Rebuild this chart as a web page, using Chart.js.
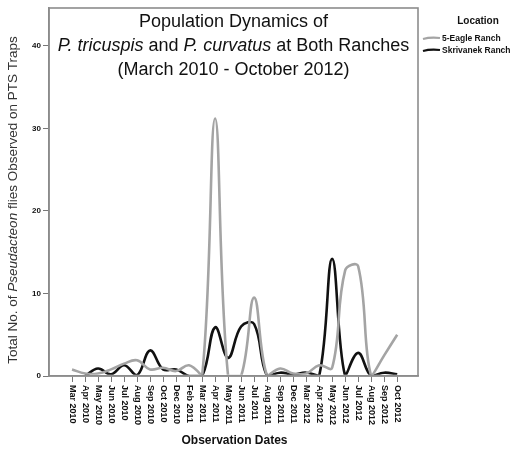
<!DOCTYPE html>
<html><head><meta charset="utf-8">
<script src="https://cdn.jsdelivr.net/npm/chart.js@4.4.0/dist/chart.umd.min.js"></script>
<style>html,body{margin:0;padding:0;background:#fff;}#wrap{width:529px;height:450px;}</style>
</head><body><div id="wrap"><canvas id="c" width="529" height="450"></canvas></div>
<script>
const dateLabels = ['Mar 2010','Apr 2010','May 2010','Jun 2010','Jul 2010','Aug 2010','Sep 2010','Oct 2010','Dec 2010','Feb 2011','Mar 2011','Apr 2011','May 2011','Jun 2011','Jul 2011','Aug 2011','Sep 2011','Dec 2011','Mar 2012','Apr 2012','May 2012','Jun 2012','Jul 2012','Aug 2012','Sep 2012','Oct 2012'];
const eagleRanch = [0.8,0.3,0.3,0.8,1.5,1.9,0.8,1.0,0.6,1.3,0,31.2,0,0,9.5,0,0.9,0.3,0.3,1.3,1.0,12.8,13.3,0,2.5,5.0];
const skrivanekRanch = [null,0,0.9,0.2,1.3,0.1,3.1,0.8,0.8,0,0,5.9,2.2,6.0,6.3,0,0.4,0.2,0.4,0,14.2,0,2.8,0,0.4,0.2];
const seriesNames = ['5-Eagle Ranch','Skrivanek Ranch'];
const yTickValues = [0,10,20,30,40];
const titleLine1 = 'Population Dynamics of';
const titleLine2 = [['P. tricuspis',true],[' and ',false],['P. curvatus',true],[' at Both Ranches',false]];
const titleLine3 = '(March 2010 - October 2012)';
const yTitle = [['Total No. of ',false],['Pseudacteon',true],[' flies Observed on PTS Traps',false]];
const xTitle = 'Observation Dates';
const legendTitle = 'Location';

const FONT = '"Liberation Sans", Arial, sans-serif';
const colors = ['#a4a4a4', '#111111'];

function drawSegs(ctx, segs, size, weight) {
  let total = 0;
  const ws = segs.map(s => { ctx.font = (s[1]?'italic ':'') + (weight||'normal') + ' ' + size + 'px ' + FONT; const w = ctx.measureText(s[0]).width; total += w; return w; });
  let x = -total/2;
  ctx.textAlign = 'left';
  segs.forEach((s,i) => { ctx.font = (s[1]?'italic ':'') + (weight||'normal') + ' ' + size + 'px ' + FONT; ctx.fillText(s[0], x, 0); x += ws[i]; });
}

const decor = {
  id: 'decor',
  afterDatasetsDraw(chart) {
    const ctx = chart.ctx, a = chart.chartArea;
    ctx.save();
    ctx.strokeStyle = '#8c8c8c'; ctx.lineWidth = 1.6;
    ctx.strokeRect(a.left, a.top, a.right - a.left, a.bottom - a.top);
    ctx.restore();
  },
  afterDraw(chart) {
    const ctx = chart.ctx, a = chart.chartArea, xs = chart.scales.x;
    const cx = (a.left + a.right) / 2;
    ctx.save();
    ctx.fillStyle = '#111';
    ctx.textBaseline = 'alphabetic';
    ctx.font = '18px ' + FONT; ctx.textAlign = 'center';
    ctx.fillText(titleLine1, cx, 27);
    ctx.save(); ctx.translate(cx, 51); drawSegs(ctx, titleLine2, 18); ctx.restore();
    ctx.font = '18px ' + FONT; ctx.textAlign = 'center';
    ctx.fillText(titleLine3, cx, 75);
    ctx.save(); ctx.fillStyle = '#333'; ctx.translate(17, 200); ctx.rotate(-Math.PI/2); drawSegs(ctx, yTitle, 13.5); ctx.restore();
    ctx.font = 'bold 9px ' + FONT; ctx.textAlign = 'left'; ctx.textBaseline = 'middle';
    dateLabels.forEach((lab, i) => {
      const px = xs.getPixelForValue(i);
      ctx.save(); ctx.translate(px, a.bottom + 9); ctx.rotate(Math.PI/2); ctx.fillText(lab, 0, 0); ctx.restore();
    });
    ctx.textBaseline = 'alphabetic'; ctx.textAlign = 'center';
    ctx.font = 'bold 12px ' + FONT;
    ctx.fillText(xTitle, cx + 1, 444);
    ctx.font = 'bold 10px ' + FONT;
    ctx.fillText(legendTitle, 478, 24);
    ctx.textAlign = 'left'; ctx.font = 'bold 8.5px ' + FONT;
    seriesNames.forEach((n, i) => {
      const y = 38 + i * 12;
      ctx.strokeStyle = colors[i]; ctx.lineWidth = 2.2;
      ctx.beginPath(); ctx.moveTo(423, y + 1); ctx.quadraticCurveTo(430, y - 1, 440, y); ctx.stroke();
      ctx.fillText(n, 442, y + 3);
    });
    ctx.restore();
  }
};

new Chart(document.getElementById('c'), {
  type: 'line',
  data: {
    datasets: [
      { label: seriesNames[0], data: eagleRanch.map((v,i) => ({x:i, y:v})), borderColor: colors[0], borderWidth: 2.6, pointRadius: 0, tension: 0.4, clip: {left:0, top:0, right:0, bottom:-1.3} },
      { label: seriesNames[1], data: skrivanekRanch.map((v,i) => ({x:i, y:v})), borderColor: colors[1], borderWidth: 2.6, pointRadius: 0, tension: 0.4, clip: {left:0, top:0, right:0, bottom:-1.3} }
    ]
  },
  options: {
    responsive: false,
    animation: false,
    layout: { padding: { top: 8, right: 111, left: 0, bottom: 0 } },
    plugins: { legend: { display: false }, title: { display: false }, tooltip: { enabled: false } },
    scales: {
      x: {
        type: 'linear', min: -1.77, max: 26.6,
        afterBuildTicks: s => { s.ticks = dateLabels.map((l, i) => ({ value: i })); },
        afterFit: s => { s.height = 74; },
        ticks: { display: false, stepSize: 1 },
        grid: { drawOnChartArea: false, tickLength: 6, color: '#777', lineWidth: 1 },
        border: { color: '#8c8c8c', width: 1.6 }
      },
      y: {
        min: 0, max: 44.6,
        afterBuildTicks: s => { s.ticks = yTickValues.map(v => ({ value: v })); },
        afterFit: s => { s.width = 49; },
        ticks: { font: { family: FONT, size: 8, weight: 'bold' }, color: '#111', padding: 2 },
        grid: { drawOnChartArea: false, tickLength: 6, color: '#777', lineWidth: 1 },
        border: { color: '#8c8c8c', width: 1.6 }
      }
    }
  },
  plugins: [decor]
});
</script></body></html>
